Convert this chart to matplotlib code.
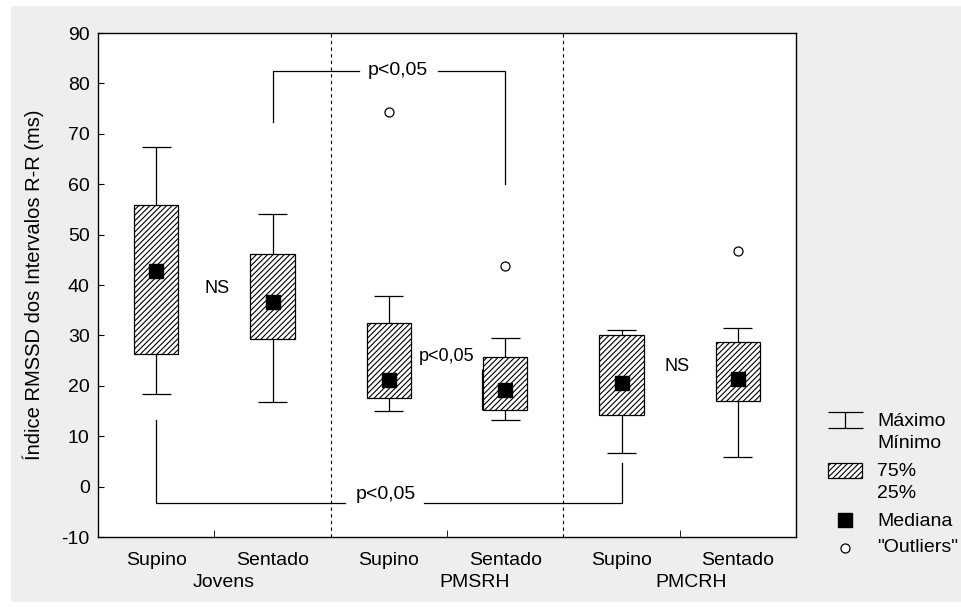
import numpy as np
import matplotlib.pyplot as plt
from matplotlib.patches import Rectangle
from matplotlib.transforms import blended_transform_factory

plt.rcParams['font.family'] = ['Liberation Sans', 'DejaVu Sans']
plt.rcParams['hatch.linewidth'] = 0.8
plt.rcParams['axes.unicode_minus'] = False

# data
conditions = ['Supino', 'Sentado', 'Supino', 'Sentado', 'Supino', 'Sentado']
groups = ['Jovens', 'PMSRH', 'PMCRH']
group_label_x = [0.58, 2.74, 4.6]
whisker_hi = [67.3, 54.0, 37.8, 29.5, 31.1, 31.4]
q3 = [55.8, 46.2, 32.5, 25.8, 30.0, 28.7]
median = [42.8, 36.6, 21.1, 19.1, 20.6, 21.3]
q1 = [26.3, 29.2, 17.5, 15.1, 14.3, 16.9]
whisker_lo = [18.4, 16.7, 15.0, 13.3, 6.7, 5.9]
outlier_x = [2, 3, 5]
outlier_y = [74.4, 43.8, 46.8]

W, H = 961, 607
fig = plt.figure(figsize=(W / 100, H / 100), dpi=100, facecolor='white')
fig.patches.append(Rectangle((11 / W, 1 - 602 / H), 1 - 11 / W, 596 / H,
                             transform=fig.transFigure, facecolor='#eeeeee',
                             edgecolor='none', zorder=-5))

ax = fig.add_axes([98 / W, 1 - 537 / H, 698 / W, 504 / H])
ax.set_facecolor('white')
x = np.arange(len(conditions))
bw = 0.38
cw = 0.25

# boxes
ax.bar(x, np.array(q3) - np.array(q1), bottom=q1, width=bw, facecolor='white',
       edgecolor='black', hatch='//////', linewidth=0.9, zorder=3)
# whiskers
ax.vlines(x, q3, whisker_hi, color='black', lw=0.9, zorder=2)
ax.vlines(x, whisker_lo, q1, color='black', lw=0.9, zorder=2)
ax.hlines(whisker_hi, x - cw / 2, x + cw / 2, color='black', lw=0.9)
ax.hlines(whisker_lo, x - cw / 2, x + cw / 2, color='black', lw=0.9)
# medians and outliers
ax.plot(x, median, 's', color='black', ms=9.5, zorder=4)
ax.plot(outlier_x, outlier_y, 'o', mfc='white', mec='black', ms=6.5, mew=0.9, zorder=4)

# group separators
for xs in [1.5, 3.5]:
    ax.axvline(xs, color='black', lw=0.8, ls=(0, (3, 3)), zorder=1)

# significance brackets
fs = 14
ax.plot([1, 1, 1.74], [72.4, 82.5, 82.5], color='black', lw=0.9)
ax.plot([2.42, 3, 3], [82.5, 82.5, 60.1], color='black', lw=0.9)
ax.text(2.08, 82.5, 'p<0,05', ha='center', va='center', fontsize=fs)
ax.plot([0, 0, 1.62], [13.3, -3.3, -3.3], color='black', lw=0.9)
ax.plot([2.3, 4, 4], [-3.3, -3.3, 4.6], color='black', lw=0.9)
ax.text(1.97, -3.3, 'p<0,05', ha='center', va='bottom', fontsize=fs)
ax.text(2.5, 25.8, 'p<0,05', ha='center', va='center', fontsize=fs - 1)
ax.vlines(3 - bw / 2 - 0.012, 15.1, 23.3, color='black', lw=0.9)
ax.text(0.52, 39.3, 'NS', ha='center', va='center', fontsize=fs - 1)
ax.text(4.48, 23.9, 'NS', ha='center', va='center', fontsize=fs - 1)

ax.set_xlim(-0.5, 5.5)
ax.set_ylim(-10, 90)
ax.set_yticks(np.arange(-10, 91, 10))
ax.set_xticks(x)
ax.set_xticklabels(conditions)
ax.set_xticks([0.5, 2.5, 4.5], minor=True)
ax.tick_params(axis='x', which='major', length=0, pad=11, labelsize=fs)
ax.tick_params(axis='x', which='minor', direction='in', length=5)
ax.tick_params(axis='y', direction='in', length=4, pad=6, labelsize=fs)
for s in ax.spines.values():
    s.set_linewidth(1.0)

trans = blended_transform_factory(ax.transData, ax.transAxes)
for gx, g in zip(group_label_x, groups):
    ax.text(gx, -0.09, g, transform=trans, ha='center', va='center', fontsize=fs)

ax.set_ylabel('Índice RMSSD dos Intervalos R-R (ms)', fontsize=14.5)
ax.yaxis.set_label_coords(-0.078, 0.5)

# legend, drawn in pixel coordinates
lax = fig.add_axes([0, 0, 1, 1], zorder=5)
lax.set_xlim(0, W)
lax.set_ylim(H, 0)
lax.axis('off')
lax.hlines([412, 428], 828, 863, color='black', lw=0.9)
lax.vlines(845, 412, 428, color='black', lw=0.9)
lax.add_patch(Rectangle((828, 463), 34, 15, facecolor='white', edgecolor='black',
                        hatch='//////', lw=0.9))
lax.plot([845], [520], 's', color='black', ms=10)
lax.plot([845], [548], 'o', mfc='white', mec='black', ms=6.5, mew=0.9)
for ty, t in [(421.5, 'Máximo'), (443, 'Mínimo'), (471.5, '75%'), (493, '25%'),
              (521.5, 'Mediana'), (548, '"Outliers"')]:
    lax.text(877, ty, t, ha='left', va='center', fontsize=fs)

fig.savefig('out.png', dpi=100, facecolor='white')
